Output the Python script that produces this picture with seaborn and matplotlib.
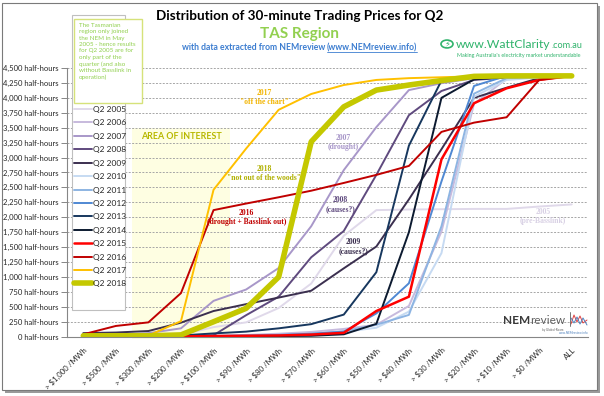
import numpy as np
import pandas as pd
import matplotlib
matplotlib.use('Agg')
import matplotlib.pyplot as plt
from matplotlib.patches import Rectangle, Circle
from matplotlib.lines import Line2D
from matplotlib.ticker import FuncFormatter
import seaborn as sns

# price bands on the x axis (cumulative: number of half-hours above each price)
price_bands = ['> $1,000 /MWh', '> $500 /MWh', '> $300 /MWh', '> $200 /MWh', '> $100 /MWh',
               '> $90 /MWh', '> $80 /MWh', '> $70 /MWh', '> $60 /MWh', '> $50 /MWh',
               '> $40 /MWh', '> $30 /MWh', '> $20 /MWh', '> $10 /MWh', '> $0 /MWh', 'ALL']

years = ['Q2 2005', 'Q2 2006', 'Q2 2007', 'Q2 2008', 'Q2 2009', 'Q2 2010', 'Q2 2011',
         'Q2 2012', 'Q2 2013', 'Q2 2014', 'Q2 2015', 'Q2 2016', 'Q2 2017', 'Q2 2018']

q2_2005 = [5, 5, 10, 30, 160, 240, 480, 890, 1690, 2120, 2130, 2135, 2140, 2140, 2180, 2215]
q2_2006 = [0, 0, 5, 10, 20, 30, 50, 80, 130, 200, 515, 1760, 3900, 4320, 4350, 4368]
q2_2007 = [10, 20, 60, 140, 600, 790, 1150, 1850, 2790, 3510, 4130, 4245, 4330, 4350, 4360, 4368]
q2_2008 = [0, 0, 0, 5, 25, 360, 670, 1330, 1770, 2710, 3710, 4115, 4300, 4340, 4360, 4368]
q2_2009 = [60, 70, 95, 235, 430, 545, 655, 770, 1145, 1510, 2300, 3140, 4000, 4170, 4330, 4368]
q2_2010 = [0, 0, 0, 0, 5, 10, 20, 40, 80, 150, 420, 1400, 4020, 4300, 4340, 4368]
q2_2011 = [0, 0, 0, 0, 5, 10, 25, 45, 90, 200, 365, 1850, 4070, 4330, 4350, 4368]
q2_2012 = [0, 0, 0, 5, 10, 20, 30, 50, 85, 390, 895, 2600, 4200, 4368, 4368, 4368]
q2_2013 = [0, 0, 5, 20, 55, 85, 140, 210, 370, 1080, 3200, 4290, 4350, 4360, 4365, 4368]
q2_2014 = [0, 0, 0, 0, 5, 5, 10, 15, 40, 215, 1750, 4000, 4310, 4350, 4360, 4368]
q2_2015 = [0, 0, 0, 5, 10, 15, 20, 35, 65, 430, 670, 2970, 3910, 4160, 4300, 4368]
q2_2016 = [40, 180, 240, 730, 2120, 2230, 2335, 2445, 2575, 2710, 2860, 3430, 3585, 3675, 4300, 4368]
q2_2017 = [5, 10, 20, 260, 2460, 3150, 3800, 4065, 4215, 4300, 4330, 4345, 4360, 4368, 4368, 4368]
q2_2018 = [15, 15, 15, 30, 250, 475, 1000, 3265, 3850, 4130, 4215, 4290, 4360, 4368, 4368, 4368]

series = dict(zip(years, [q2_2005, q2_2006, q2_2007, q2_2008, q2_2009, q2_2010, q2_2011,
                          q2_2012, q2_2013, q2_2014, q2_2015, q2_2016, q2_2017, q2_2018]))

colours = {'Q2 2005': '#e0d9ea', 'Q2 2006': '#c7badd', 'Q2 2007': '#a897c9',
           'Q2 2008': '#5f4a7e', 'Q2 2009': '#3b2f4f', 'Q2 2010': '#c6daf2',
           'Q2 2011': '#8db4e2', 'Q2 2012': '#4f88d3', 'Q2 2013': '#17375e',
           'Q2 2014': '#0c1a30', 'Q2 2015': '#ff0000', 'Q2 2016': '#c00000',
           'Q2 2017': '#ffc000', 'Q2 2018': '#c4c800'}

rows = []
for name, vals in series.items():
    for i, v in enumerate(vals):
        rows.append({'band': i, 'half_hours': v, 'series': name})
df = pd.DataFrame(rows)

sns.set_theme(style='white')
plt.rcParams['font.family'] = ['Lato', 'DejaVu Sans']

W, H = 604, 396
fig = plt.figure(figsize=(W / 100, H / 100), dpi=100)
fig.patch.set_facecolor('white')

# outer frame + shadow like the pasted screenshot
fig.patches.append(Rectangle((5 / W, 1 - 393 / H), 595 / W, 387 / H, transform=fig.transFigure,
                             facecolor='#9a9a9a', edgecolor='none', zorder=-3))
fig.patches.append(Rectangle((2 / W, 1 - 390 / H), 595 / W, 387 / H, transform=fig.transFigure,
                             facecolor='white', edgecolor='#7a7a7a', lw=0.8, zorder=-2))

ax = fig.add_axes([67 / W, 1 - 336.7 / H, (588 - 67) / W, (336.7 - 68) / H])
ax.set_facecolor('none')

for name in years:
    sub = df[df['series'] == name]
    lw = 4.0 if name == 'Q2 2018' else (1.8 if name == 'Q2 2015' else 1.4)
    sns.lineplot(data=sub, x='band', y='half_hours', color=colours[name], linewidth=lw,
                 label=name, ax=ax, sort=False)

handles, labels = ax.get_legend_handles_labels()
ax.get_legend().remove()

ax.set_xlim(-0.5, 15.5)
ax.set_ylim(0, 4500)
ax.set_xlabel('')
ax.set_ylabel('')

ax.set_yticks(np.arange(0, 4501, 250))
ax.yaxis.set_major_formatter(FuncFormatter(lambda v, p: f'{int(v):,} half-hours'))
ax.yaxis.grid(True, linestyle=(0, (2, 1.5)), color='#a6a6a6', lw=0.7)
ax.xaxis.grid(False)
ax.set_axisbelow(True)

ax.set_xticks(np.arange(len(price_bands)))
ax.set_xticklabels(price_bands, rotation=45, ha='right', rotation_mode='anchor')
ax.set_xticks(np.arange(-0.5, len(price_bands)), minor=True)
ax.tick_params(axis='x', which='major', length=0, pad=7, labelsize=5.6, labelcolor='#262626')
ax.tick_params(axis='x', which='minor', length=4, color='#868686', width=0.7, direction='out')
ax.tick_params(axis='y', length=4, color='#868686', width=0.7, direction='out', pad=2,
               labelsize=5.5, labelcolor='#262626', left=True)

for s in ['top', 'right']:
    ax.spines[s].set_visible(False)
for s in ['left', 'bottom']:
    ax.spines[s].set_color('#868686')
    ax.spines[s].set_linewidth(0.8)

# area of interest
ax.add_patch(Rectangle((1.5, -40), 3, 3530, facecolor='#fefee2', edgecolor='none',
                       zorder=0.3, clip_on=False))
ax.text(3.0, 3345, 'AREA OF INTEREST', color='#b8b800', fontsize=6.4, fontweight='bold',
        ha='center', va='center')

# series annotations
notes = [
    (5.55, 4005, '2017\n"off the chart"', '#f2b400'),
    (5.55, 2733, '2018\n"not out of the woods"', '#b0b000'),
    (5.02, 2000, '2016\n(drought + Basslink out)', '#c00000'),
    (7.99, 3252, '2007\n(drought)', '#a897c9'),
    (7.90, 2212, '2008\n(causes?)', '#5f4a7e'),
    (8.30, 1516, '2009\n(causes?)', '#3b2f4f'),
    (14.12, 2016, '2005\n(pre-Basslink)', '#d8d0e4'),
]
for x, y, t, c in notes:
    ax.text(x, y, t, color=c, fontsize=5.5, fontweight='bold', ha='center', va='center',
            family='Liberation Serif', linespacing=1.2)

# legend panel
fig.patches.append(Rectangle((72 / W, 1 - 310 / H), 53 / W, 295 / H, transform=fig.transFigure,
                             facecolor='white', edgecolor='#bfbfbf', lw=0.8, zorder=2))
leg = fig.legend(handles, labels, loc='upper left', bbox_to_anchor=(74 / W, 1 - 106 / H),
                 frameon=False, fontsize=6.0, handlelength=2.1, handletextpad=0.2,
                 labelspacing=0.77, borderpad=0, borderaxespad=0)
leg.set_zorder(3)
for t in leg.get_texts():
    t.set_color('#262626')

# note box
fig.patches.append(Rectangle((74 / W, 1 - 103 / H), 68 / W, 84 / H, transform=fig.transFigure,
                             facecolor='white', edgecolor='#d6e27a', lw=1.0, zorder=4))
fig.text(79 / W, 1 - 23 / H,
         'The Tasmanian\nregion only joined\nthe NEM in May\n2005 - hence results\n'
         'for Q2 2005 are for\nonly part of the\nquarter (and also\nwithout Basslink in\noperation)',
         color='#92d050', fontsize=4.5, ha='left', va='top', linespacing=1.33, zorder=5)

# titles
fig.text(300 / W, 1 - 16 / H, 'Distribution of 30-minute Trading Prices for Q2',
         fontsize=9.7, fontweight='bold', color='black', ha='center', va='center')
fig.text(300 / W, 1 - 34 / H, 'TAS Region', fontsize=11, fontweight='bold',
         color='#92d050', ha='center', va='center')
split_x = 327 / W
fig.text(split_x, 1 - 48 / H, 'with data extracted from NEMreview ', fontsize=6.2,
         fontweight='bold', color='#3c7dd0', ha='right', va='center')
link = fig.text(split_x, 1 - 48 / H, '(www.NEMreview.info)', fontsize=6.2,
                fontweight='bold', color='#3c7dd0', ha='left', va='center')
fig.canvas.draw()
inv = fig.transFigure.inverted()
bb = link.get_window_extent().transformed(inv)
fig.add_artist(Line2D([bb.x0, bb.x1], [bb.y0 + 0.002, bb.y0 + 0.002], color='#3c7dd0', lw=0.6,
                      transform=fig.transFigure))

# WattClarity logo
fig.patches.append(Circle((447 / W, 1 - 44 / H), 6 / W, transform=fig.transFigure,
                          facecolor='none', edgecolor='#2fb36b', lw=1.2, zorder=5))
fig.text(447 / W, 1 - 44 / H, '⚡', fontsize=6, color='#2fb36b', ha='center', va='center',
         family=['DejaVu Sans'])
wc = fig.text(456 / W, 1 - 44 / H, 'www.WattClarity', fontsize=8.8, color='#2fb36b',
              ha='left', va='center')
fig.canvas.draw()
bb = wc.get_window_extent().transformed(inv)
fig.text(bb.x1 + 1 / W, 1 - 45 / H, '.com.au', fontsize=6.6, color='#2fb36b', ha='left', va='center')
fig.text(457 / W, 1 - 56 / H, "Making Australia's electricity market understandable",
         fontsize=3.9, color='#2fb36b', ha='left', va='center')

# NEMreview logo
nem = fig.text(503 / W, 1 - 321 / H, 'NEM', fontsize=8.5, fontweight='bold', color='#3a3a3a',
               ha='left', va='center')
fig.canvas.draw()
bb = nem.get_window_extent().transformed(inv)
fig.text(bb.x1, 1 - 321 / H, 'review', fontsize=8.5, color='#606060', ha='left', va='center')
fig.text(563 / W, 1 - 329.5 / H, 'by Global-Roam', fontsize=2.2, color='#606060',
         ha='right', va='center')
fig.text(589 / W, 1 - 333 / H, 'www.NEMreview.info', fontsize=2.2, color='#4f81bd',
         ha='right', va='center')
fig.add_artist(Line2D([571 / W, 574 / W, 577 / W, 580 / W, 583 / W, 587 / W],
                      [1 - 324 / H, 1 - 315 / H, 1 - 322 / H, 1 - 316 / H, 1 - 323 / H, 1 - 320 / H],
                      color='#e04040', lw=0.7, transform=fig.transFigure))
fig.add_artist(Line2D([571 / W, 574 / W, 577 / W, 580 / W, 583 / W, 587 / W],
                      [1 - 318 / H, 1 - 323 / H, 1 - 317 / H, 1 - 324 / H, 1 - 318 / H, 1 - 325 / H],
                      color='#4f81bd', lw=0.7, transform=fig.transFigure))
fig.add_artist(Line2D([570 / W, 570 / W], [1 - 326 / H, 1 - 312 / H], color='#606060', lw=0.6,
                      transform=fig.transFigure))

fig.savefig('out.png', dpi=100)
